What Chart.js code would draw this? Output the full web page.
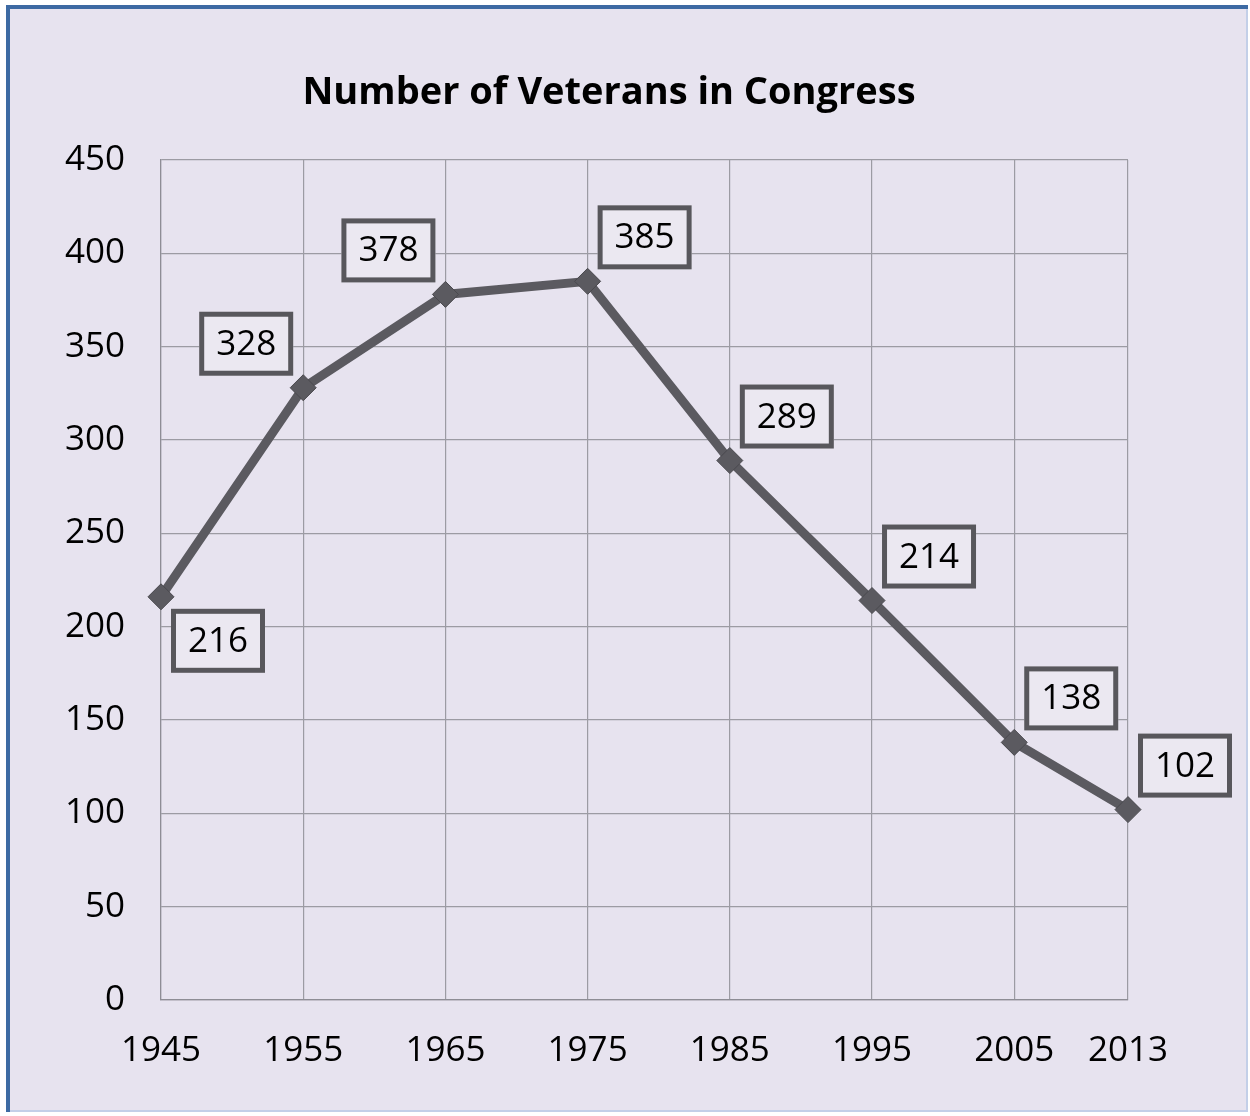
<!DOCTYPE html>
<html>
<head>
<meta charset="utf-8">
<script src="https://cdn.jsdelivr.net/npm/chart.js@4"></script>
<style>
html,body{margin:0;padding:0;background:#fff;}
#wrap{position:absolute;left:0;top:0;width:1250px;height:1116px;}
</style>
</head>
<body>
<div id="wrap"><canvas id="c" width="1250" height="1116"></canvas></div>
<script>
// ---- data ----
const years = [1945, 1955, 1965, 1975, 1985, 1995, 2005, 2013];
const veterans = [216, 328, 378, 385, 289, 214, 138, 102];
const yTicks = [0, 50, 100, 150, 200, 250, 300, 350, 400, 450];
const chartTitle = 'Number of Veterans in Congress';
// where each value box sits relative to its point
const labelPlacement = ['below-right', 'above-left', 'above-left', 'above-right', 'above-right', 'above-right', 'above-right', 'above-right'];

const FONT = "'Open Sans', 'Liberation Sans', sans-serif";
const LINE = '#5b5a60';

const bgPlugin = {
  id: 'bg',
  beforeDraw(chart) {
    const ctx = chart.ctx;
    ctx.save();
    ctx.fillStyle = '#ffffff';
    ctx.fillRect(0, 0, chart.width, chart.height);
    ctx.fillStyle = '#e7e3ef';
    ctx.fillRect(6, 5, 1242, 1107);
    ctx.fillStyle = '#3d6aa3';
    ctx.fillRect(6, 5, 4, 1107);
    ctx.fillRect(6, 5, 1242, 4);
    ctx.fillStyle = '#c3cfe8';
    ctx.fillRect(1246, 9, 2, 1103);
    ctx.fillRect(10, 1110, 1238, 2);
    // title
    ctx.fillStyle = '#000';
    ctx.font = 'bold 38px ' + FONT;
    ctx.textAlign = 'center';
    ctx.textBaseline = 'middle';
    ctx.fillText(chartTitle, 609, 93);
    ctx.restore();
  }
};

const boxPlugin = {
  id: 'valueBoxes',
  afterDatasetsDraw(chart) {
    const ctx = chart.ctx;
    const meta = chart.getDatasetMeta(0);
    const W = 94, H = 64, DX = 57, DY = 44;
    ctx.save();
    meta.data.forEach((pt, i) => {
      const p = labelPlacement[i] || 'above-right';
      const cx = pt.x + (p.indexOf('left') >= 0 ? -DX : DX);
      const cy = pt.y + (p.indexOf('above') >= 0 ? -DY : DY);
      ctx.fillStyle = '#ebe8f1';
      ctx.fillRect(cx - W / 2, cy - H / 2, W, H);
      ctx.lineWidth = 5;
      ctx.strokeStyle = '#58575c';
      ctx.strokeRect(cx - W / 2 + 2.5, cy - H / 2 + 2.5, W - 5, H - 5);
      ctx.fillStyle = '#000';
      ctx.font = '35px ' + FONT;
      ctx.textAlign = 'center';
      ctx.textBaseline = 'middle';
      ctx.fillText(String(veterans[i]), cx, cy + 1);
    });
    ctx.restore();
  }
};

new Chart(document.getElementById('c'), {
  type: 'line',
  data: {
    datasets: [{
      data: years.map((y, i) => ({ x: y, y: veterans[i] })),
      borderColor: LINE,
      borderWidth: 9,
      pointStyle: 'rectRot',
      pointRadius: 13,
      pointBackgroundColor: LINE,
      pointBorderColor: '#4a494e',
      pointBorderWidth: 1,
      tension: 0,
      clip: false
    }]
  },
  options: {
    responsive: false,
    animation: false,
    events: [],
    layout: { padding: { left: 0, right: 122, top: 160, bottom: 0 } },
    plugins: {
      legend: { display: false },
      tooltip: { enabled: false },
      title: { display: false }
    },
    scales: {
      x: {
        type: 'linear',
        min: years[0],
        max: years[years.length - 1],
        afterBuildTicks(scale) { scale.ticks = years.map(v => ({ value: v })); },
        afterFit(scale) { scale.height = 116; },
        grid: { color: '#9c9ba3', lineWidth: 1.2, drawTicks: false },
        border: { color: '#8e8d95', width: 1.2 },
        ticks: {
          color: '#000',
          padding: 30,
          maxRotation: 0,
          autoSkip: false,
          font: { family: FONT, size: 35 },
          callback: v => String(v)
        }
      },
      y: {
        min: 0,
        max: 450,
        afterBuildTicks(scale) { scale.ticks = yTicks.map(v => ({ value: v })); },
        afterFit(scale) { scale.width = 161; },
        grid: { color: '#9c9ba3', lineWidth: 1.2, drawTicks: false },
        border: { color: '#8e8d95', width: 1.2 },
        ticks: {
          color: '#000',
          padding: 36,
          font: { family: FONT, size: 35 }
        }
      }
    }
  },
  plugins: [bgPlugin, boxPlugin]
});
</script>
</body>
</html>
